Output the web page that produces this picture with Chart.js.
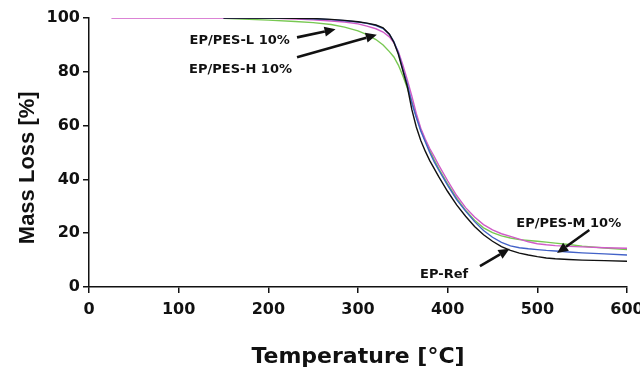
<!DOCTYPE html>
<html>
<head>
<meta charset="utf-8">
<script src="https://cdn.jsdelivr.net/npm/chart.js@4.4.1/dist/chart.umd.min.js"></script>
<style>
html,body{margin:0;padding:0;background:#fff;}
#wrap{width:640px;height:385px;}
</style>
</head>
<body>
<div id="wrap"><canvas id="c" width="640" height="385"></canvas></div>
<script>
// Temperature grid [°C]
const temperatures = [25,150,200,230,250,270,285,300,310,320,328,335,340,345,350,355,360,365,370,375,380,385,390,400,410,420,430,440,450,460,470,480,490,500,510,520,535,550,575,600];
// Mass [%] per series (null = not recorded at that temperature)
const epRef   = [null,100,100,99.9,99.8,99.5,99.1,98.6,98.1,97.4,96.3,94,91,86.5,80.5,74.5,66,59.5,54.5,50.5,47,44,41,35.5,30.5,26.3,22.5,19.4,17,15,13.6,12.6,11.9,11.3,10.8,10.5,10.2,10,9.8,9.6];
const pesM    = [null,100,100,99.9,99.7,99.4,99,98.5,98,97.2,96.1,94,91.2,87,81,75.5,68.5,63,58,54,50,46.5,43.5,37.8,32.5,28.2,24.3,21,18.5,16.6,15.3,14.6,14.2,13.9,13.6,13.4,13,12.7,12.3,11.9];
const pesL    = [null,99.9,99.2,98.7,98.3,97.6,96.6,95.2,93.8,92,90,87.5,85.5,82.5,78.5,74,69,63.5,58.5,54.5,50.8,47.3,44,38.3,33,28.5,24.8,22,20.2,19,18.2,17.6,17.3,17,16.7,16.3,15.8,15.2,14.5,13.9];
const pesH    = [100,100,100,99.6,99.3,98.9,98.5,97.8,97,96,94.8,93,90.8,87.5,82.5,77,71,64.5,59,55,51.5,48.5,45.3,39.5,34,29.5,26,23.2,21.2,19.8,18.8,17.8,16.8,16.1,15.7,15.4,15.1,14.9,14.6,14.4];
const xTicks = [0,100,200,300,400,500,600];
const yTicks = [0,20,40,60,80,100];

// Annotation labels (data coordinates)
const notes = [
  {text:'EP/PES-L 10%', at:[168,91.6], from:[232,92.8], to:[275,95.8]},
  {text:'EP/PES-H 10%', at:[169,80.8], from:[232,85.4], to:[321,93.8]},
  {text:'EP/PES-M 10%', at:[535,23.6], from:[558,21.2], to:[522,12.6]},
  {text:'EP-Ref',       at:[396,4.6],  from:[436,7.8],  to:[469,14.2]}
];

const pts = arr => temperatures.map((t,i)=>({x:t,y:arr[i]}));
const FONT = '"DejaVu Sans", "Liberation Sans", Arial, sans-serif';

const annot = {
  id:'annot',
  afterDatasetsDraw(chart){
    const {ctx, scales:{x,y}} = chart;
    ctx.save();
    ctx.fillStyle='#111';
    ctx.strokeStyle='#111';
    ctx.font='bold 13px ' + FONT;
    ctx.textAlign='center';
    ctx.textBaseline='middle';
    notes.forEach(n=>{
      ctx.fillText(n.text, x.getPixelForValue(n.at[0]), y.getPixelForValue(n.at[1]));
      const x1=x.getPixelForValue(n.from[0]), y1=y.getPixelForValue(n.from[1]);
      const x2=x.getPixelForValue(n.to[0]),   y2=y.getPixelForValue(n.to[1]);
      const ang=Math.atan2(y2-y1,x2-x1);
      const hl=11, hw=5;
      const bx=x2-hl*Math.cos(ang), by=y2-hl*Math.sin(ang);
      ctx.lineWidth=2.6;
      ctx.beginPath(); ctx.moveTo(x1,y1); ctx.lineTo(bx,by); ctx.stroke();
      ctx.beginPath();
      ctx.moveTo(x2,y2);
      ctx.lineTo(bx+hw*Math.sin(ang), by-hw*Math.cos(ang));
      ctx.lineTo(bx-hw*Math.sin(ang), by+hw*Math.cos(ang));
      ctx.closePath(); ctx.fill();
    });
    ctx.restore();
  }
};

const ds = (label, arr, color) => ({label, data:pts(arr), borderColor:color, backgroundColor:color, borderWidth:1.4, pointRadius:0, showLine:true, fill:false, tension:0});

new Chart(document.getElementById('c'), {
  type:'scatter',
  data:{datasets:[
    ds('EP-Ref', epRef, '#111111'),
    ds('EP/PES-M 10%', pesM, '#4262c8'),
    ds('EP/PES-H 10%', pesH, '#d05bc8'),
    ds('EP/PES-L 10%', pesL, '#78c852')
  ]},
  options:{
    responsive:false, animation:false, devicePixelRatio:1,
    layout:{autoPadding:false, padding:{top:18,right:13,left:0,bottom:0}},
    plugins:{legend:{display:false}, tooltip:{enabled:false}},
    scales:{
      x:{type:'linear', min:0, max:600,
        afterBuildTicks: s => { s.ticks = xTicks.map(v=>({value:v})); },
        afterFit: s => { s.height = 98; s.paddingLeft = 0; s.paddingRight = 0; },
        grid:{display:true, drawOnChartArea:false, drawTicks:true, tickLength:6, color:'#111', lineWidth:1.5},
        border:{display:true, color:'#111', width:1.5},
        ticks:{color:'#111', padding:7, maxRotation:0, font:{family:FONT, size:16, weight:'bold'}},
        title:{display:true, text:'Temperature [°C]', color:'#111', padding:{top:0,bottom:15}, font:{family:FONT, size:22, weight:'bold'}}
      },
      y:{type:'linear', min:0, max:100,
        afterBuildTicks: s => { s.ticks = yTicks.map(v=>({value:v})); },
        afterFit: s => { s.width = 89; s.paddingTop = 0; s.paddingBottom = 0; },
        grid:{display:true, drawOnChartArea:false, drawTicks:true, tickLength:6, color:'#111', lineWidth:1.5},
        border:{display:true, color:'#111', width:1.5},
        ticks:{color:'#111', padding:3, font:{family:FONT, size:16, weight:'bold'}},
        title:{display:true, text:'Mass Loss [%]\u00a0\u00a0\u00a0\u00a0\u00a0', color:'#111', padding:{top:15,bottom:0}, font:{family:'"Liberation Sans", Arial, sans-serif', size:22, weight:'bold'}}
      }
    }
  },
  plugins:[annot]
});
</script>
</body>
</html>
